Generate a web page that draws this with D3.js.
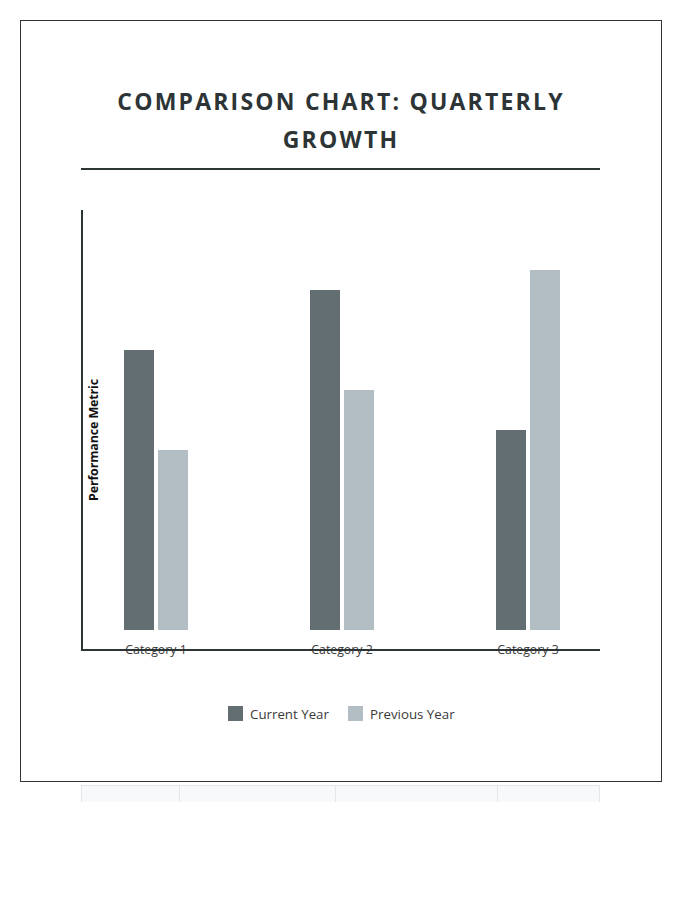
<!DOCTYPE html>
<html><head><meta charset="utf-8">
<script src="https://cdn.jsdelivr.net/npm/d3@7"></script>
<style>
body{margin:0;background:#fff;}
svg text{font-family:"Open Sans","Noto Sans",sans-serif;}
</style></head>
<body><svg id="c" width="700" height="900"></svg>
<script>
const categories = ["Category 1","Category 2","Category 3"];
const seriesNames = ["Current Year","Previous Year"];
const currentYear = [70, 85, 50];
const previousYear = [45, 60, 90];
const seriesColors = ["#636e72","#b2bec3"];
const titleLines = ["COMPARISON CHART: QUARTERLY","GROWTH"];
const yLabel = "Performance Metric";

const svg = d3.select("#c");
const dark = "#2d3436";

// outer card border
svg.append("rect").attr("x",20.5).attr("y",20.5).attr("width",641).attr("height",761)
  .attr("fill","#fff").attr("stroke","#333").attr("stroke-width",1);

// title
const title = svg.append("text").attr("text-anchor","middle")
  .attr("font-size",23).attr("font-weight",700).attr("fill",dark).attr("letter-spacing",2.2);
titleLines.forEach((t,i)=>title.append("tspan").attr("x",341).attr("y",110+i*38).text(t));
svg.append("line").attr("x1",81).attr("x2",600).attr("y1",169).attr("y2",169)
  .attr("stroke",dark).attr("stroke-width",2);

// scales
const y = d3.scaleLinear().domain([0,100]).range([630,230]);
const x0 = d3.scaleBand().domain(categories).range([63,621]);
const x1 = d3.scaleBand().domain(seriesNames).range([0,64]).paddingInner(0.1176);
const groupOffset = (x0.bandwidth()-64)/2;

const data = categories.map((c,i)=>({cat:c, vals:[currentYear[i],previousYear[i]]}));
const g = svg.append("g");
const groups = g.selectAll("g.grp").data(data).join("g")
  .attr("transform",d=>`translate(${x0(d.cat)+groupOffset},0)`);
groups.selectAll("rect").data(d=>d.vals.map((v,j)=>({name:seriesNames[j],v,j}))).join("rect")
  .attr("x",d=>x1(d.name)).attr("width",x1.bandwidth())
  .attr("y",d=>y(d.v)).attr("height",d=>y(0)-y(d.v))
  .attr("fill",d=>seriesColors[d.j]);

// x axis labels
const xAxis = d3.axisBottom(x0).tickSize(0).tickPadding(15.5);
const xa = svg.append("g").attr("transform","translate(0,630)").call(xAxis);
xa.select(".domain").remove();
xa.selectAll("text").attr("font-size",12.3).attr("fill","#3a3a3a").style("font-family","Open Sans");

// axis lines
svg.append("line").attr("x1",82).attr("x2",82).attr("y1",210).attr("y2",651).attr("stroke",dark).attr("stroke-width",2);
svg.append("line").attr("x1",81).attr("x2",600).attr("y1",650).attr("y2",650).attr("stroke",dark).attr("stroke-width",2);

// y label
svg.append("text").attr("transform","translate(98,440) rotate(-90)").attr("text-anchor","middle")
  .attr("font-size",12.5).attr("font-weight",700).attr("fill","#111").attr("letter-spacing",-0.15).text(yLabel);

// legend
const legX = [228,348];
seriesNames.forEach((n,i)=>{
  svg.append("rect").attr("x",legX[i]).attr("y",706).attr("width",15).attr("height",15).attr("fill",seriesColors[i]);
  svg.append("text").attr("x",legX[i]+22).attr("y",718.5).attr("font-size",13.3).attr("fill","#3a3a3a").text(n);
});

// table stub below card
const cols = [81,179,335,497,600];
svg.append("rect").attr("x",81.5).attr("y",785.5).attr("width",518).attr("height",17).attr("fill","#f8f9fa").attr("stroke","#e3e6e8");
cols.slice(1,-1).forEach(cx=>svg.append("line").attr("x1",cx+0.5).attr("x2",cx+0.5).attr("y1",786).attr("y2",803).attr("stroke","#e3e6e8"));
svg.append("rect").attr("x",70).attr("y",802).attr("width",560).attr("height",10).attr("fill","#fff");
</script></body></html>
